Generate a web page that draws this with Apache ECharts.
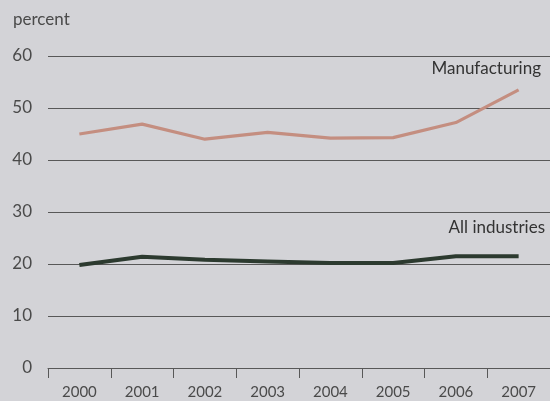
<!DOCTYPE html>
<html>
<head>
<meta charset="utf-8">
<script src="https://cdn.jsdelivr.net/npm/echarts@6/dist/echarts.min.js"></script>
<style>
html,body{margin:0;padding:0;background:#d3d3d7;}
#c{width:550px;height:401px;}
</style>
</head>
<body>
<div id="c"></div>
<script>
var years = ['2000','2001','2002','2003','2004','2005','2006','2007'];
var manufacturing = [45.0, 46.9, 44.0, 45.3, 44.2, 44.3, 47.2, 53.5];
var allIndustries = [19.8, 21.4, 20.8, 20.5, 20.2, 20.2, 21.5, 21.5];
var yTicks = [0, 10, 20, 30, 40, 50, 60];

var FONT = 'Lato';
var chart = echarts.init(document.getElementById('c'), null, {renderer: 'canvas'});
chart.setOption({
  backgroundColor: '#d3d3d7',
  animation: false,
  grid: {left: 48, right: -7, top: 56, bottom: 33},
  xAxis: {
    type: 'category',
    data: years,
    boundaryGap: true,
    axisLine: {show: true, lineStyle: {color: '#585858', width: 1}},
    axisTick: {show: true, length: 10, lineStyle: {color: '#585858', width: 1}},
    axisLabel: {color: '#4a4a4a', fontSize: 15, fontFamily: FONT, margin: 17}
  },
  yAxis: {
    type: 'value',
    min: yTicks[0], max: yTicks[yTicks.length - 1], interval: 10,
    axisLine: {show: false},
    axisTick: {show: false},
    axisLabel: {color: '#4a4a4a', fontSize: 17, fontFamily: FONT, margin: 16},
    splitLine: {show: true, lineStyle: {color: '#585858', width: 1}}
  },
  graphic: [
    {type: 'text', left: 13, top: 11, style: {text: 'percent', fill: '#4a4a4a', font: '17px ' + FONT}},
    {type: 'text', right: 9, top: 60, style: {text: 'Manufacturing', fill: '#333', font: '17px ' + FONT}},
    {type: 'text', right: 5, top: 219, style: {text: 'All industries', fill: '#333', font: '17px ' + FONT}}
  ],
  series: [
    {name: 'Manufacturing', type: 'line', data: manufacturing, symbol: 'none',
     lineStyle: {color: '#c48e80', width: 3.2}},
    {name: 'All industries', type: 'line', data: allIndustries, symbol: 'none',
     lineStyle: {color: '#2c3a2f', width: 4}}
  ]
});
</script>
</body>
</html>
